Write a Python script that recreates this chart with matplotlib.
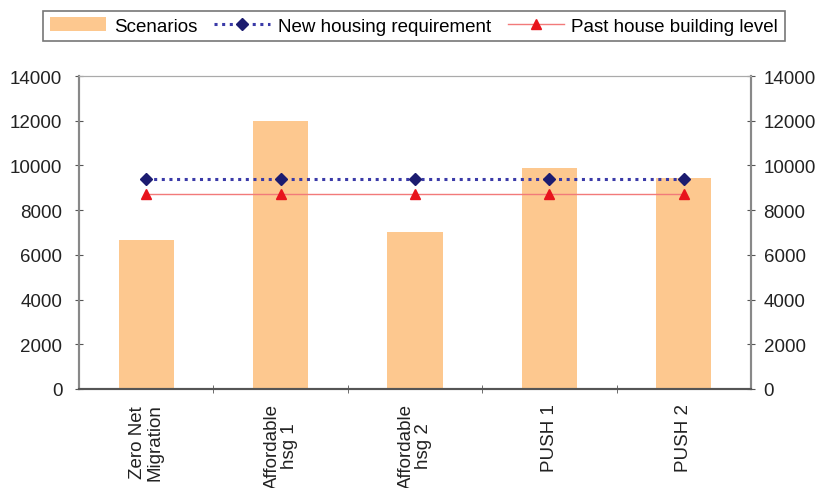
import matplotlib.pyplot as plt
import numpy as np

plt.rcParams['font.family'] = ['Liberation Sans', 'DejaVu Sans']

scenarios = ['Zero Net\nMigration', 'Affordable\nhsg 1', 'Affordable\nhsg 2', 'PUSH 1', 'PUSH 2']
scenario_values = [6650, 12000, 7000, 9880, 9430]
new_housing = [9400, 9400, 9400, 9400, 9400]
past_building = [8700, 8700, 8700, 8700, 8700]
yticks = [0, 2000, 4000, 6000, 8000, 10000, 12000, 14000]

fig = plt.figure(figsize=(8.2, 4.89), dpi=100)
ax = fig.add_axes([0.0963, 0.2025, 0.8196, 0.64])
x = np.arange(len(scenarios))

bars = ax.bar(x, scenario_values, width=0.41, color='#fdc88f', label='Scenarios', zorder=1)
l1, = ax.plot(x, new_housing, color='#3a3aa8', linestyle=(0, (1, 1.5)), linewidth=2.2,
              marker='D', markersize=6, markerfacecolor='#1c1c70', markeredgecolor='#1c1c70',
              label='New housing requirement', zorder=3)
l2, = ax.plot(x, past_building, color='#f27a7a', linewidth=1, marker='^', markersize=7,
              markerfacecolor='#e8141c', markeredgecolor='#e8141c',
              label='Past house building level', zorder=2)

ax.set_xlim(-0.5, 4.5)
ax.set_ylim(0, 14000)
ax.set_yticks(yticks)
ax.set_yticklabels([str(v) for v in yticks], fontsize=13.5, color='#222222')
ax.set_xticks(x)
ax.set_xticklabels(scenarios, rotation=90, fontsize=13.5, color='#222222', linespacing=1.0)
ax.set_xticks(x[:-1] + 0.5, minor=True)
ax.tick_params(axis='x', which='major', length=0, pad=10)
ax.tick_params(axis='x', which='minor', length=6, direction='inout', color='#555555')
ax.tick_params(axis='y', length=6, color='#555555', direction='inout', pad=9)

ax2 = ax.twinx()
ax2.set_ylim(0, 14000)
ax2.set_yticks(yticks)
ax2.set_yticklabels([str(v) for v in yticks], fontsize=13.5, color='#222222')
ax2.tick_params(axis='y', length=6, color='#555555', direction='inout', pad=6)

for a in (ax, ax2):
    a.spines['left'].set_color('#888888')
    a.spines['right'].set_color('#888888')
    a.spines['top'].set_color('#aaaaaa')
    a.spines['bottom'].set_color('#555555')
    a.spines['left'].set_linewidth(1.5)
    a.spines['right'].set_linewidth(1.5)
    a.spines['bottom'].set_linewidth(1.5)

leg = fig.legend(handles=[bars, l1, l2], loc='upper center', bbox_to_anchor=(0.505, 0.995),
                 ncol=3, fontsize=13.5, frameon=True, fancybox=False, edgecolor='#555555',
                 handlelength=3.0, handletextpad=0.4, columnspacing=0.9, borderpad=0.35)
leg.get_frame().set_linewidth(1.2)

fig.savefig('out.png', dpi=100)
